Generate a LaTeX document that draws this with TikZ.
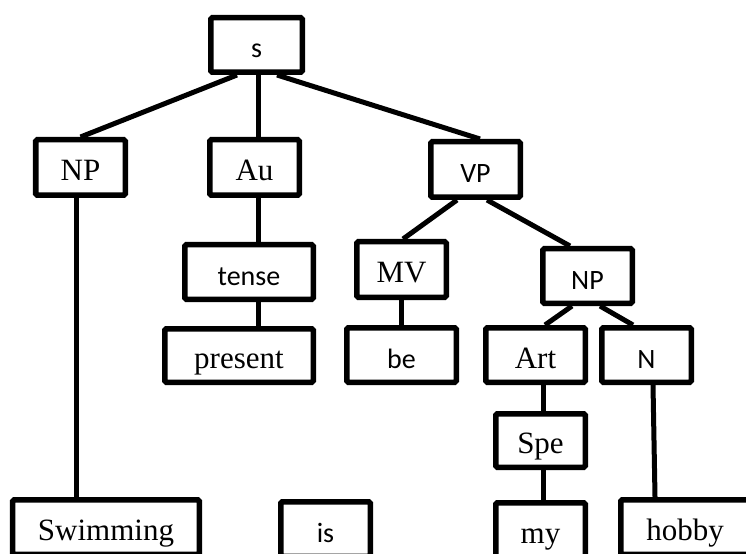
\documentclass[tikz,border=0pt]{standalone}
\usepackage{fontspec}
\setmainfont{Liberation Serif}
\newfontfamily\sansfam{Carlito}
\usetikzlibrary{calc}
\begin{document}
\begin{tikzpicture}[x=1bp,y=-1bp,
  box/.style={draw, line width=5.5bp, rounded corners=1.5bp, inner sep=0pt,
    text height=27bp, text depth=1bp, font=\fontsize{31bp}{36bp}\selectfont},
  sbox/.style={box, font=\sansfam\fontsize{28bp}{34bp}\selectfont},
  sz/.style 2 args={minimum width=#1bp-5.5bp, minimum height=#2bp-5.5bp},
  edge/.style={line width=5bp}]
\useasboundingbox (0,0) rectangle (746,554);
\clip (0,0) rectangle (746,554);

% boxes of the tree
\node[sbox, sz={97}{60}]  (s)       at (256.5,45)    {s};
\node[box,  sz={95}{61}]  (np1)     at (80.5,167.5)  {NP};
\node[box,  sz={95}{61}]  (au)      at (254.5,167.5) {Au};
\node[sbox, sz={95}{61}]  (vp)      at (475.5,169.5) {VP};
\node[sbox, sz={134}{60}] (tense)   at (249,272)     {tense};
\node[box,  sz={95}{61}]  (mv)      at (401.5,269.5) {MV};
\node[sbox, sz={95}{60}]  (np2)     at (587.5,276)   {NP};
\node[box,  sz={154}{59}] (present) at (239,355.5)   {present};
\node[sbox, sz={115}{60}] (be)      at (401.5,355)   {be};
\node[box,  sz={105}{60}] (art)     at (535.5,355)   {Art};
\node[sbox, sz={95}{60}]  (n)       at (646.5,355)   {N};
\node[box,  sz={95}{59}]  (spe)     at (540.5,440.5) {Spe};
\node[box,  sz={192}{60}] (swim)    at (106,527)     {Swimming};
\node[sbox, sz={95}{60}]  (is)      at (325.5,529)   {is};
\node[box,  sz={95}{60}]  (my)      at (540.5,530)   {my};
\node[box,  sz={134}{60}] (hobby)   at (685,527)     {hobby};

% vertical guide lines through stacked boxes
\coordinate (vx) at ($(au.center)+(3.5,0)$);
\coordinate (ax) at ($(spe.center)+(2.5,0)$);

% branches
\draw[edge] ($(s.south)+(-19.5,0)$) -- (np1.north);
\draw[edge] (vx |- s.south) -- (vx |- au.north);
\draw[edge] ($(s.south)+(20.5,0)$) -- ($(vp.north)+(4.5,0)$);
\draw[edge] (vx |- au.south) -- (vx |- tense.north);
\draw[edge] (vx |- tense.south) -- (vx |- present.north);
\draw[edge] ($(vp.south)+(-18.5,0)$) -- ($(mv.north)+(1.5,0)$);
\draw[edge] ($(vp.south)+(11.5,0)$) -- ($(np2.north)+(-17.5,0)$);
\draw[edge] (mv.south) -- (mv.south |- be.north);
\draw[edge] ($(np2.south)+(-15.5,0)$) -- ($(art.north)+(9.5,0)$);
\draw[edge] ($(np2.south)+(12.5,0)$) -- ($(n.north)+(-13.5,0)$);
\draw[edge] (ax |- art.south) -- (ax |- spe.north);
\draw[edge] (ax |- spe.south) -- (ax |- my.north);
\draw[edge] ($(n.south)+(6.5,0)$) -- ($(hobby.north)+(-30,0)$);
\draw[edge] ($(np1.south)+(-4.5,0)$) -- ($(swim.north)+(-30,0)$);
\end{tikzpicture}
\end{document}
